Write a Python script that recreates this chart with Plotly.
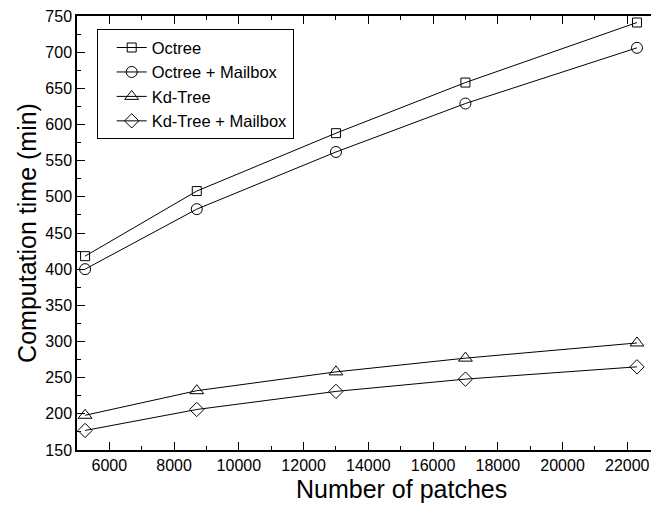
import plotly.graph_objects as go

patches = [5250, 8700, 13000, 17000, 22300]
octree = [418, 508, 588, 658, 741]
octree_mailbox = [400, 483, 562, 629, 706]
kdtree = [198, 232, 258, 277, 298]
kdtree_mailbox = [177, 206, 231, 248, 265]
x_ticks = [6000, 8000, 10000, 12000, 14000, 16000, 18000, 20000, 22000]

series = [
    ("Octree", octree, "square-open", 9),
    ("Octree + Mailbox", octree_mailbox, "circle-open", 11),
    ("Kd-Tree", kdtree, "triangle-up-open", 12),
    ("Kd-Tree + Mailbox", kdtree_mailbox, "diamond-open", 11),
]

fig = go.Figure()
for name, ys, sym, sz in series:
    fig.add_trace(go.Scatter(
        x=patches, y=ys, name=name, mode="lines+markers",
        line=dict(color="black", width=1),
        marker=dict(symbol=sym, size=sz, color="black", line=dict(color="black", width=1)),
    ))

font = "Liberation Sans, Arial, sans-serif"
fig.update_layout(
    width=651, height=510,
    margin=dict(l=77, r=0, t=16, b=60),
    paper_bgcolor="white", plot_bgcolor="white",
    font=dict(family=font, color="black", size=16),
    showlegend=True,
    legend=dict(
        x=0.0343, y=0.9694, xanchor="left", yanchor="top",
        bordercolor="black", borderwidth=1, bgcolor="white",
        font=dict(size=16.5, family=font),
        indentation=14,
    ),
    annotations=[dict(
        text="Number of patches", xref="paper", yref="paper",
        x=0.5645, y=-0.0899, xanchor="center", yanchor="middle",
        showarrow=False, font=dict(size=25, family=font, color="black"),
    )],
)
fig.update_xaxes(
    range=[5000, 22733], tickvals=x_ticks, tickformat="d",
    ticks="inside", ticklen=8, tickwidth=1, tickcolor="black",
    minor=dict(ticks="inside", ticklen=4, dtick=1000, tick0=5000, tickcolor="black"),
    showline=True, linecolor="black", linewidth=1.5, mirror="ticks",
    showgrid=False, zeroline=False,
    tickfont=dict(size=16),
)
fig.update_yaxes(
    range=[150, 750], dtick=50,
    ticks="inside", ticklen=8, tickwidth=1, tickcolor="black",
    minor=dict(ticks="inside", ticklen=4, dtick=25, tickcolor="black"),
    showline=True, linecolor="black", linewidth=1.5,
    showgrid=False, zeroline=False,
    tickfont=dict(size=16),
    title=dict(text="Computation time (min)", font=dict(size=25), standoff=2),
)
fig.write_html("out.html", config={"displayModeBar": False},
               post_script="document.body.style.margin='0px';")
